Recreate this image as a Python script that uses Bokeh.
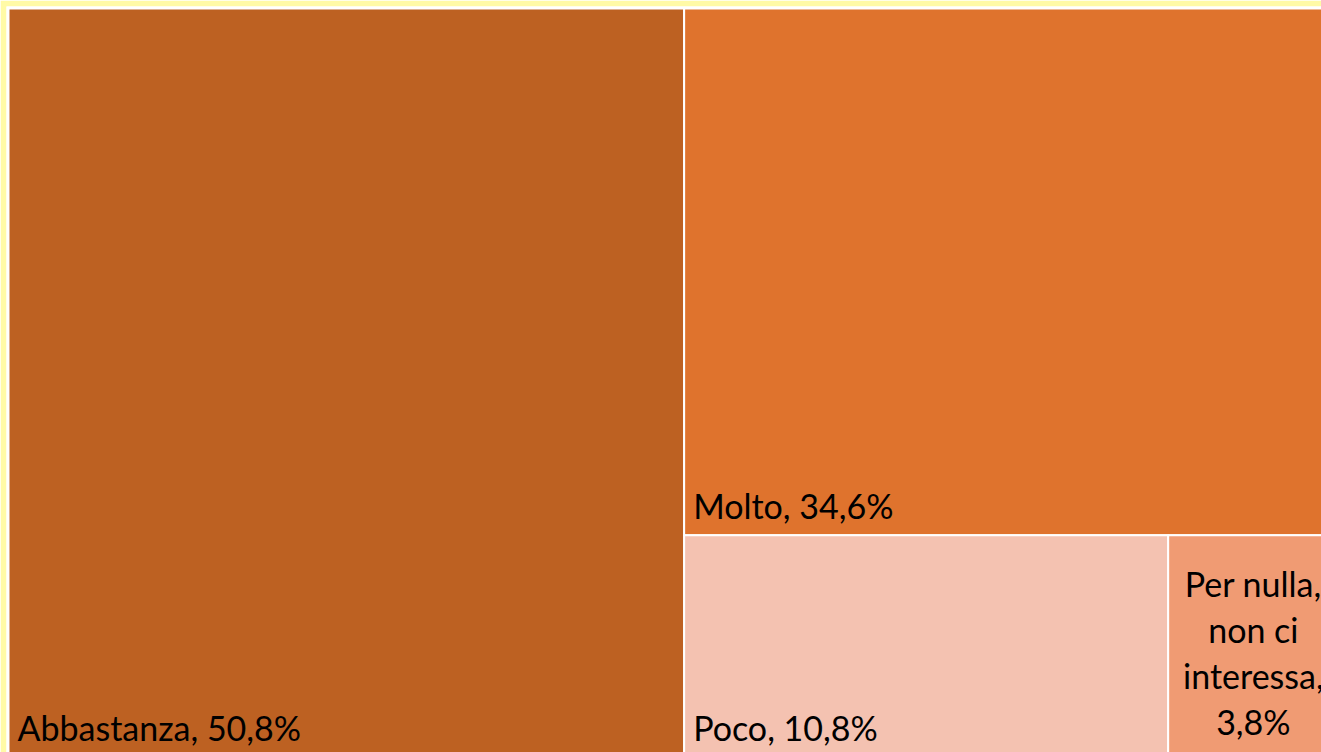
from bokeh.plotting import figure
from bokeh.models import Range1d, ColumnDataSource
from bokeh.core.properties import value
from bokeh.embed import file_html
from bokeh.resources import INLINE

# ---- data ----
categories = ["Abbastanza", "Molto", "Poco", "Per nulla,\nnon ci\ninteressa"]
values = [50.8, 34.6, 10.8, 3.8]
colors = ["#bd6122", "#df732d", "#f4c2b1", "#f09b73"]

# ---- treemap layout (pixel-like units; the map is larger than the visible window) ----
W, H = 1330.0, 749.0
total = sum(values)
x_split = values[0] / total * W
rest = values[1] + values[2] + values[3]
y_split = values[1] / rest * H
x_split2 = x_split + values[2] / (values[2] + values[3]) * (W - x_split)

left = [0, x_split, x_split, x_split2]
right = [x_split, W, x_split2, W]
top = [0, 0, y_split, y_split]
bottom = [H, y_split, H, H]

def fmt(c, v):
    return f"{c}, {v:.1f}%".replace(".", ",")

labels = [fmt(c, v) for c, v in zip(categories, values)]
labels[3] = f"{categories[3]},\n{values[3]:.1f}%".replace(".", ",")

src = ColumnDataSource(dict(left=left, right=right, top=top, bottom=bottom, color=colors))

p = figure(width=1321, height=752, output_backend="svg", toolbar_location=None,
           x_range=Range1d(-2, 1313), y_range=Range1d(744, -2),
           min_border_left=6, min_border_top=6, min_border_right=0, min_border_bottom=0,
           outline_line_color=None)
p.axis.visible = False
p.grid.visible = False
p.background_fill_color = "white"
p.border_fill_color = "#fffaa6"

p.quad(left="left", right="right", top="top", bottom="bottom", fill_color="color",
       line_color="white", line_width=2, source=src)

pad_x, pad_y = 9, 30
lab_src = ColumnDataSource(dict(
    x=[l + pad_x for l in left[:3]],
    y=[b - pad_y for b in bottom[:3]],
    t=labels[:3]))
p.text(x="x", y="y", text="t", source=lab_src, text_font=value("Lato"),
       text_font_size="34px", text_color="black", text_align="left",
       text_baseline="alphabetic")

c_src = ColumnDataSource(dict(
    x=[(left[3] + right[3]) / 2], y=[(top[3] + bottom[3]) / 2 + 6], t=[labels[3]]))
p.text(x="x", y="y", text="t", source=c_src, text_font=value("Lato"),
       text_font_size="34px", text_color="black", text_align="center",
       text_baseline="middle", text_line_height=1.12)

open("out.html", "w").write(file_html(p, INLINE))
